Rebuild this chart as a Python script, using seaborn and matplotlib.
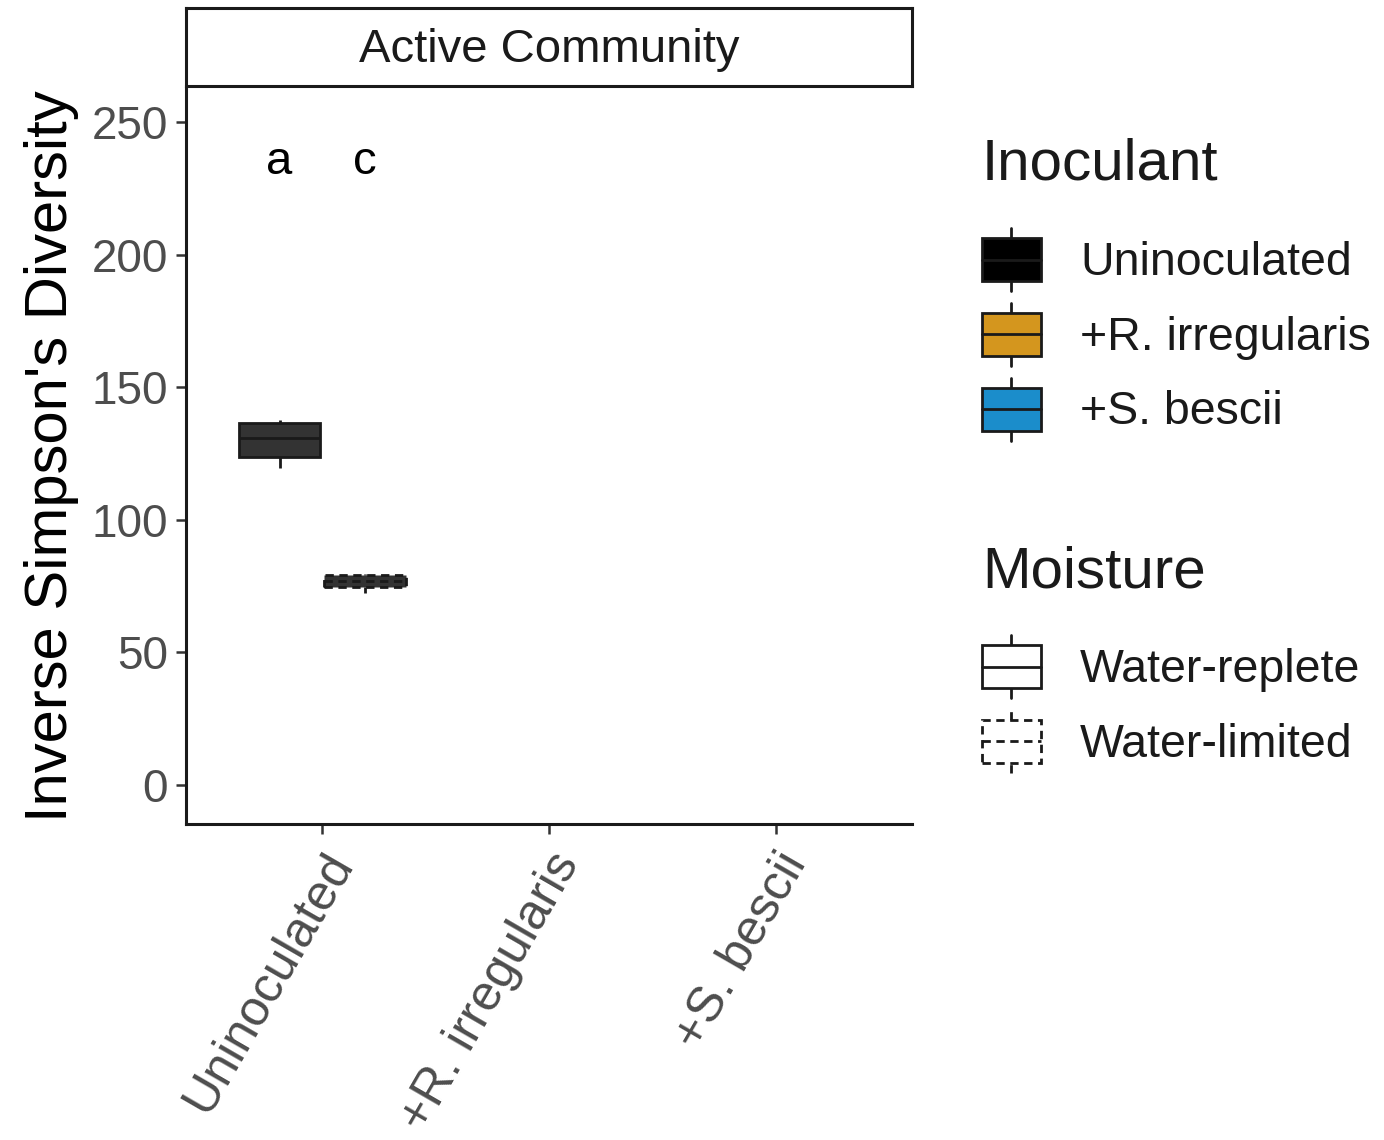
import matplotlib
matplotlib.use("Agg")
import matplotlib.pyplot as plt
import seaborn as sns
import pandas as pd
from matplotlib.patches import Patch, Rectangle
from matplotlib.lines import Line2D
from matplotlib.legend_handler import HandlerBase

# ---------------- data ----------------
inoculant_order = ["Uninoculated", "+R. irregularis", "+S. bescii"]
moisture_order = ["Water-replete", "Water-limited"]
inoculant = ["Uninoculated"] * 5 + ["Uninoculated"] * 5
moisture = ["Water-replete"] * 5 + ["Water-limited"] * 5
diversity = [119.5, 123.7, 130.8, 136.5, 137.6,
             72.4, 74.7, 76.9, 79.2, 79.4]
letters = ["a", "c"]
letter_y = 235
facet_title = "Active Community"
inoc_colors = ["#000000", "#D4961E", "#1B8DCB"]

df = pd.DataFrame({"Inoculant": inoculant, "Moisture": moisture, "Diversity": diversity})

sns.set_theme(style="white")
plt.rcParams["font.family"] = ["Liberation Sans", "DejaVu Sans"]

W, H = 1384, 1140
fig = plt.figure(figsize=(W / 100, H / 100), dpi=100)
L, R, T, B = 186, 912, 88, 824
ax = fig.add_axes([L / W, 1 - B / H, (R - L) / W, (B - T) / H])

sns.boxplot(data=df, x="Inoculant", y="Diversity", hue="Moisture",
            order=inoculant_order, hue_order=moisture_order,
            palette={"Water-replete": "#333333", "Water-limited": "#333333"},
            width=0.75, gap=0.04, showcaps=False, linecolor="#1a1a1a",
            linewidth=2.0, fliersize=0, saturation=1, legend=False, ax=ax)

# dashed outlines for water-limited
cont = ax.containers[1]
for art in list(cont.boxes) + list(cont.whiskers) + list(cont.medians):
    art.set_linestyle((0, (3, 2)))

ax.set_xlim(-0.6, 2.6)
ax.set_ylim(-14.7, 262.8)
ax.set_yticks([0, 50, 100, 150, 200, 250])
ax.set_xlabel("")
ax.set_ylabel("Inverse Simpson's Diversity", fontsize=43, color="black", labelpad=9)

for s in ["top", "right"]:
    ax.spines[s].set_visible(False)
for s in ["left", "bottom"]:
    ax.spines[s].set_color("#1a1a1a")
    ax.spines[s].set_linewidth(2.2)
ax.tick_params(axis="both", which="both", length=7, width=1.8, color="#333333",
               labelcolor="#4d4d4d", left=True, bottom=True)
ax.tick_params(axis="y", pad=6, labelsize=33)
ax.tick_params(axis="x", pad=8, labelsize=36)
for lab in ax.get_xticklabels():
    lab.set_rotation(60)
    lab.set_ha("right")
    lab.set_va("top")
    lab.set_rotation_mode("anchor")

# significance letters
offsets = [-0.1875, 0.1875]
for off, let in zip(offsets, letters):
    ax.text(0 + off, letter_y, let, ha="center", va="center", fontsize=34, color="black")

# facet strip
sax = fig.add_axes([L / W, 1 - 86 / H, (R - L) / W, 78 / H])
sax.set_xticks([]); sax.set_yticks([])
for s in sax.spines.values():
    s.set_color("#1a1a1a"); s.set_linewidth(2.2)
sax.set_facecolor("white")
sax.text(0.5, 0.46, facet_title, ha="center", va="center", fontsize=34, color="#1a1a1a",
         transform=sax.transAxes)


class BoxKey(HandlerBase):
    def create_artists(self, legend, orig_handle, xdescent, ydescent, width, height, fontsize, trans):
        x0, y0 = -xdescent, -ydescent
        fc = orig_handle.get_facecolor()
        ls = orig_handle.get_linestyle()
        bh = height * 0.68
        by = y0 + (height - bh) / 2
        cx = x0 + width / 2
        lw = 2.0
        ec = "#1a1a1a"
        arts = [
            Line2D([cx, cx], [y0, by], color=ec, lw=lw, linestyle=ls, transform=trans),
            Line2D([cx, cx], [by + bh, y0 + height], color=ec, lw=lw, linestyle=ls, transform=trans),
            Rectangle((x0, by), width, bh, facecolor=fc, edgecolor=ec, lw=lw, linestyle=ls, transform=trans),
            Line2D([x0, x0 + width], [by + bh / 2, by + bh / 2], color=ec, lw=lw, linestyle=ls, transform=trans),
        ]
        return arts


h1 = [Patch(facecolor=c, edgecolor="#1a1a1a", linestyle="-") for c in inoc_colors]
h2 = [Patch(facecolor="white", edgecolor="#1a1a1a", linestyle="-"),
      Patch(facecolor="white", edgecolor="#1a1a1a", linestyle=(0, (3, 2)))]

common = dict(frameon=False, borderpad=0, handler_map={Patch: BoxKey()},
              handlelength=1.26, handleheight=1.70, handletextpad=0.85,
              labelspacing=0.26, fontsize=33.5, title_fontsize=42, alignment="left",
              borderaxespad=0)
leg1 = fig.legend(h1, inoculant_order, title="Inoculant", loc="upper left",
                  bbox_to_anchor=(982 / W, 1 - 138 / H), **common)
leg2 = fig.legend(h2, moisture_order, title="Moisture", loc="upper left",
                  bbox_to_anchor=(982 / W, 1 - 545 / H), **common)
for lg in (leg1, leg2):
    for t in lg.get_texts():
        t.set_color("#1a1a1a")
    lg.get_title().set_color("#1a1a1a")
    lg._legend_box.sep = 26

fig.savefig("out.png", dpi=100, facecolor="white")
